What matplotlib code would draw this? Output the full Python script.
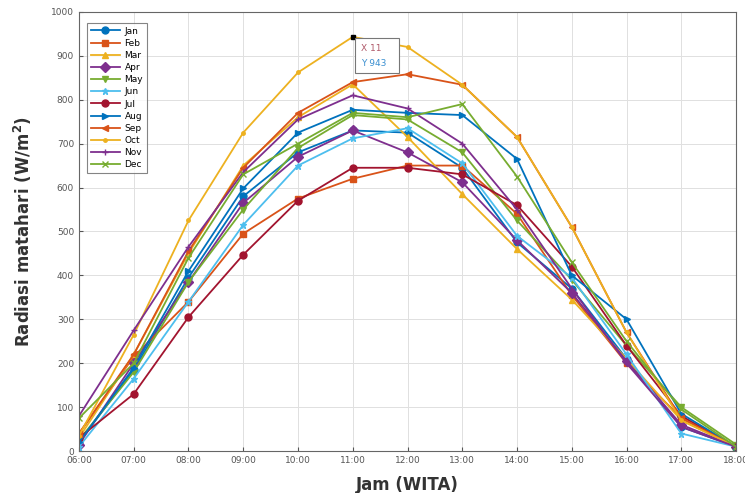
import matplotlib.pyplot as plt
from matplotlib.patches import Rectangle
import numpy as np

# Jam pengamatan (WITA)
hours = np.arange(6, 19)
hour_labels = ["%02d:00" % h for h in hours]

months = ["Jan", "Feb", "Mar", "Apr", "May", "Jun", "Jul", "Aug", "Sep", "Oct", "Nov", "Dec"]

# Radiasi matahari tiap bulan (W/m2)
jan = [20, 185, 395, 580, 680, 730, 725, 645, 475, 370, 210, 55, 10]
feb = [40, 215, 340, 495, 575, 620, 650, 650, 540, 355, 200, 75, 10]
mar = [30, 220, 450, 650, 760, 835, 715, 585, 460, 345, 210, 70, 10]
apr = [15, 200, 385, 565, 670, 730, 680, 612, 480, 360, 205, 60, 10]
may = [25, 180, 385, 550, 690, 765, 755, 680, 525, 390, 240, 100, 15]
jun = [10, 165, 340, 515, 650, 712, 735, 655, 490, 395, 220, 40, 10]
jul = [30, 130, 305, 447, 570, 645, 645, 630, 560, 420, 240, 80, 10]
aug = [20, 190, 410, 598, 725, 777, 770, 765, 665, 400, 300, 85, 10]
sep = [40, 220, 455, 645, 770, 840, 858, 834, 715, 510, 270, 75, 10]
okt = [35, 265, 525, 725, 862, 943, 920, 834, 715, 510, 270, 70, 10]
nov = [80, 275, 465, 635, 755, 810, 780, 700, 550, 370, 200, 55, 10]
dec = [75, 200, 440, 630, 700, 770, 760, 790, 625, 430, 250, 95, 10]
series = [jan, feb, mar, apr, may, jun, jul, aug, sep, okt, nov, dec]

# titik datatip
tip_x, tip_y = 11, 943

# warna default MATLAB
colors = ["#0072BD", "#D95319", "#EDB120", "#7E2F8E", "#77AC30", "#4DBEEE", "#A2142F"]
markers = ["o", "s", "^", "D", "v", "*", "o", ">", "<", ".", "+", "x"]

fig = plt.figure(figsize=(7.45, 4.93), dpi=100)
ax = fig.add_axes([0.106, 0.085, 0.882, 0.891])

for i, (name, vals) in enumerate(zip(months, series)):
    c = colors[i % len(colors)]
    ax.plot(hours, vals, color=c, marker=markers[i], markersize=5, linewidth=1.3,
            markerfacecolor=c, markeredgecolor=c, label=name)

# datatip Oct jam 11
ax.plot([tip_x], [tip_y], marker="s", color="black", markersize=3)
ax.add_patch(Rectangle((tip_x + 0.05, 860), 0.8, 80, facecolor="white",
                       edgecolor="#777777", linewidth=0.8, zorder=5))
ax.text(tip_x + 0.15, 917, "X %d" % tip_x, fontsize=6.5, color="#b05a6a",
        va="center", ha="left", zorder=6)
ax.text(tip_x + 0.15, 883, "Y %d" % tip_y, fontsize=6.5, color="#3a8fd0",
        va="center", ha="left", zorder=6)

ax.set_xlim(6, 18)
ax.set_ylim(0, 1000)
ax.set_xticks(hours)
ax.set_xticklabels(hour_labels)
ax.set_yticks(np.arange(0, 1001, 100))
ax.tick_params(direction="in", labelsize=6.5, colors="#555555", length=3)
ax.grid(True, color="#e0e0e0", linewidth=0.7)
for s in ax.spines.values():
    s.set_color("#666666")
    s.set_linewidth(0.8)

ax.set_xlabel("Jam (WITA)", fontsize=12, fontweight="bold", color="#333333", labelpad=8)
ax.set_ylabel("Radiasi matahari (W/m$^\\mathbf{2}$)", fontsize=12, fontweight="bold", color="#333333", labelpad=12)

leg = ax.legend(loc="upper left", bbox_to_anchor=(0.006, 0.985), fontsize=6.5, frameon=True,
                fancybox=False, edgecolor="#666666", handlelength=3.2, labelspacing=0.35,
                borderpad=0.4, handletextpad=0.5)
leg.get_frame().set_linewidth(0.8)

fig.savefig("out.png", dpi=100)
